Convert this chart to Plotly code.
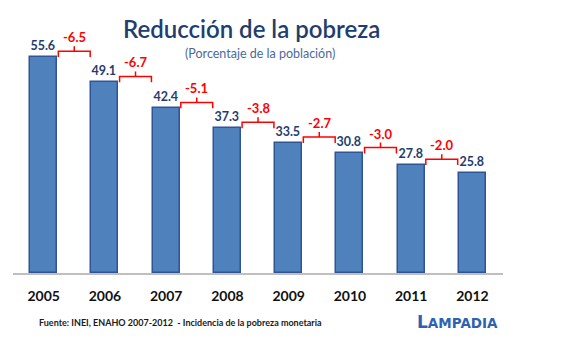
import plotly.graph_objects as go

years = ["2005", "2006", "2007", "2008", "2009", "2010", "2011", "2012"]
poverty = [55.6, 49.1, 42.4, 37.3, 33.5, 30.8, 27.8, 25.8]
change_labels = ["-6.5", "-6.7", "-5.1", "-3.8", "-2.7", "-3.0", "-2.0"]

title = "Reducción de la pobreza"
subtitle = "(Porcentaje de la población)"
source = "Fuente: INEI, ENAHO 2007-2012  - Incidencia de la pobreza monetaria"

BLUE = "#4F81BD"
BLUE_EDGE = "#2F5597"
DARK = "#1F3D6E"
RED = "#FF0000"

xs = list(range(len(years)))
fig = go.Figure()
fig.add_trace(go.Bar(
    x=xs, y=poverty, width=0.44,
    marker=dict(color=BLUE, line=dict(color=BLUE_EDGE, width=1.5)),
    text=[f"<b>{v:.1f}</b>" for v in poverty], textposition="outside",
    textfont=dict(family="Lato", size=12.5, color=DARK),
    cliponaxis=False, hoverinfo="skip",
))

# red brackets between consecutive bars
for i, lab in enumerate(change_labels):
    base = poverty[i]
    x0, x1, xm = i + 0.24, i + 0.76, i + 0.5
    bx = [x0, x0, x1, x1, None, xm, xm]
    by = [base, base + 1.5, base + 1.5, base, None, base + 1.5, base + 2.8]
    fig.add_trace(go.Scatter(x=bx, y=by, mode="lines",
                             line=dict(color=RED, width=1.5),
                             hoverinfo="skip", cliponaxis=False))
    fig.add_annotation(x=xm, y=base + 2.8, text=f"<b>{lab}</b>", showarrow=False,
                       yanchor="bottom", yshift=-1,
                       font=dict(family="Lato", size=13, color=RED))

fig.add_annotation(x=(251 - 13) / 490, y=(273 - 28) / 233, xref="paper", yref="paper",
                   text=title, showarrow=False, yanchor="middle",
                   font=dict(family="Lato", size=24, color=DARK, weight=600))
fig.add_annotation(x=(260 - 13) / 490, y=(273 - 53) / 233, xref="paper", yref="paper",
                   text=subtitle, showarrow=False, yanchor="middle",
                   font=dict(family="Lato", size=12.5, color="#4A6A9A"))
fig.add_annotation(x=(37 - 13) / 490, y=(273 - 322) / 233, xref="paper", yref="paper",
                   text=f"<b>{source}</b>", showarrow=False,
                   xanchor="left", yanchor="middle",
                   font=dict(family="Lato", size=9, color="#1a1a1a"))
fig.add_annotation(x=(500 - 13) / 490, y=(273 - 322) / 233, xref="paper", yref="paper",
                   text="<b>L<span style='font-size:13.5px'>AMPADIA</span></b>",
                   showarrow=False, xanchor="right", yanchor="middle",
                   font=dict(family="DejaVu Sans", size=17, color="#2E62B0"))

fig.update_layout(
    width=573, height=345,
    margin=dict(l=13, r=70, t=40, b=72),
    paper_bgcolor="white", plot_bgcolor="white",
    showlegend=False,
    bargap=0,
)

fig.update_xaxes(range=[-0.5, 7.5], tickmode="array", tickvals=xs, ticktext=[f"<b>{y}</b>" for y in years],
                 tickfont=dict(family="Lato", size=14, color="#111111"),
                 showgrid=False, zeroline=False, showline=True, linecolor="#BFBFBF", linewidth=2,
                 ticks="", ticklen=0, fixedrange=True, ticklabelstandoff=9)
fig.update_yaxes(range=[0, 60], visible=False, showgrid=False, zeroline=False, fixedrange=True)

fig.write_html("out.html")
